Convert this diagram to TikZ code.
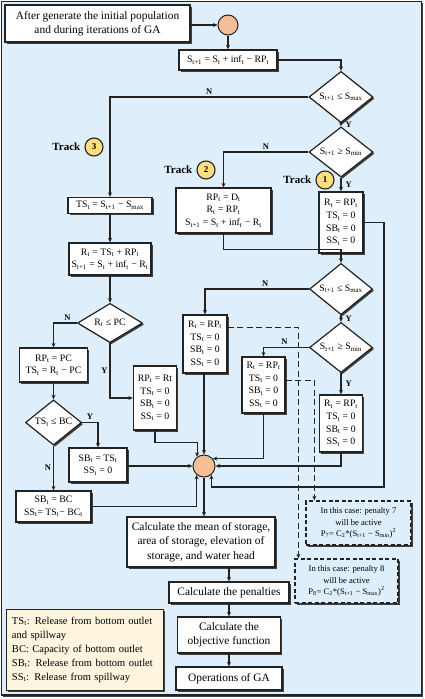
\documentclass[tikz,border=0pt]{standalone}
\usepackage{fontspec}
\setmainfont{Liberation Serif}
\usetikzlibrary{arrows.meta,positioning,shapes.geometric,shadows}
\definecolor{fcblue}{RGB}{222,238,250}
\definecolor{fcsalmon}{RGB}{246,190,150}
\definecolor{fcyellow}{RGB}{255,222,128}
\definecolor{fccream}{RGB}{253,245,222}
\definecolor{fcdark}{RGB}{35,35,35}
\newcommand{\tsub}[1]{\textsubscript{#1}}
\newcommand{\tsup}[1]{\textsuperscript{#1}}
\tikzset{
  shd/.style={drop shadow={shadow xshift=1.6pt, shadow yshift=-1.6pt, fill=black!75, opacity=1}},
  sz/.style 2 args={minimum width=#1, minimum height=#2},
  box/.style={draw=fcdark, line width=1.3pt, fill=white, align=center, inner sep=1pt, shd},
  eqbox/.style={box, font=\fontsize{9.8}{12.7}\selectfont},
  bigbox/.style={box, font=\fontsize{11.4}{14.5}\selectfont},
  test/.style={diamond, draw=fcdark, line width=1.2pt, fill=white, inner sep=0pt, shd, font=\fontsize{9.8}{11}\selectfont},
  joint/.style={circle, draw=fcdark, line width=1pt, fill=fcsalmon, minimum size=20pt, inner sep=0pt},
  note/.style={draw=fcdark, line width=1.3pt, dash pattern=on 4pt off 2.5pt, fill=fcblue, align=center, inner sep=1pt, font=\fontsize{8.6}{11.5}\selectfont, shd},
  key/.style={draw=fcdark, line width=1pt, fill=fccream, align=left, text width=145pt, inner xsep=6pt, inner ysep=4pt, font=\fontsize{10.5}{14}\selectfont, shd},
  trk/.style={circle, draw=fcdark, line width=1.1pt, fill=fcyellow, minimum size=18pt, inner sep=0pt, font=\bfseries\fontsize{9}{9}\selectfont},
  trklbl/.style={font=\bfseries\fontsize{11}{11}\selectfont, inner sep=0pt},
  lbl/.style={font=\bfseries\fontsize{8.5}{10}\selectfont, inner sep=2pt},
  arr/.style={draw=fcdark, line width=1.1pt, -{Stealth[length=4.5pt,width=4pt]}},
  dsh/.style={arr, dash pattern=on 6pt off 3.5pt}
}
\begin{document}
\begin{tikzpicture}[x=1pt,y=-1pt]
\useasboundingbox (0,0) rectangle (425,699);
\fill[white] (0,0) rectangle (425,699);
\draw[fcdark, line width=1.5pt, fill=fcblue, shd] (1.5,1.5) rectangle (421.5,695);
% Start and first balance
\node[bigbox, sz={185pt}{37pt}] (start) at (97.5,23.5) {After generate the initial population\\and during iterations of GA};
\node[joint] (c0) at (228,25) {};
\node[eqbox, sz={98pt}{20pt}] (eq1) at (228,60) {S\tsub{t+1} = S\tsub{t} + inf\tsub{t} − RP\tsub{t}};
\node[test, sz={64pt}{36pt}] (d1) at (341,97) {S\tsub{t+1} ≤ S\tsub{max}};
\node[test, sz={64pt}{38pt}] (d2) at (341,152) {S\tsub{t+1} ≥ S\tsub{min}};
% Track 1
\node[eqbox, sz={44pt}{61pt}] (t1box) at (341,222.5) {R\tsub{t} = RP\tsub{t}\\TS\tsub{t} = 0\\SB\tsub{t} = 0\\SS\tsub{t} = 0};
\node[trk] (k1) at (325,180) {1};
\node[trklbl, left=4pt of k1] (k1lbl) {Track};
% Track 2
\node[eqbox, sz={95pt}{45pt}] (t2box) at (223.5,210.5) {RP\tsub{t} = D\tsub{t}\\R\tsub{t} = RP\tsub{t}\\S\tsub{t+1} = S\tsub{t} + inf\tsub{t} − R\tsub{t}};
\node[trk] (k2) at (206,170) {2};
\node[trklbl, left=4pt of k2] (k2lbl) {Track};
\node[test, sz={63pt}{38pt}] (d3) at (341,289) {S\tsub{t+1} ≤ S\tsub{max}};
\node[test, sz={63pt}{39pt}] (d4) at (341,347.5) {S\tsub{t+1} ≥ S\tsub{min}};
\node[eqbox, sz={44pt}{58pt}] (n3box) at (205,344) {R\tsub{t} = RP\tsub{t}\\TS\tsub{t} = 0\\SB\tsub{t} = 0\\SS\tsub{t} = 0};
\node[eqbox, sz={43pt}{56pt}] (n4box) at (263.5,385) {R\tsub{t} = RP\tsub{t}\\TS\tsub{t} = 0\\SB\tsub{t} = 0\\SS\tsub{t} = 0};
\node[eqbox, sz={43pt}{57pt}] (y4box) at (341,423.5) {R\tsub{t} = RP\tsub{t}\\TS\tsub{t} = 0\\SB\tsub{t} = 0\\SS\tsub{t} = 0};
% Track 3
\node[trk] (k3) at (94,147) {3};
\node[trklbl, left=4pt of k3] (k3lbl) {Track};
\node[eqbox, sz={84pt}{16pt}] (t3box) at (110,205.5) {TS\tsub{t} = S\tsub{t+1} − S\tsub{max}};
\node[eqbox, sz={82pt}{32pt}] (rbox) at (110,259) {R\tsub{t} = TS\tsub{t} + RP\tsub{t}\\S\tsub{t+1} = S\tsub{t} + inf\tsub{t} − R\tsub{t}};
\node[test, sz={65pt}{37pt}] (d5) at (110,323) {R\tsub{t} ≤ PC};
\node[eqbox, sz={68pt}{34pt}] (pcbox) at (53.5,365) {RP\tsub{t} = PC\\TS\tsub{t} = R\tsub{t} − PC};
\node[eqbox, sz={43pt}{64pt}] (rtbox) at (155,398) {RP\tsub{t} = Rt\\TS\tsub{t} = 0\\SB\tsub{t} = 0\\SS\tsub{t} = 0};
\node[test, sz={56pt}{39pt}] (d6) at (53.5,422.5) {TS\tsub{t} ≤ BC};
\node[eqbox, sz={58pt}{34pt}] (sbts) at (98,465) {SB\tsub{t} = TS\tsub{t}\\SS\tsub{t} = 0};
\node[eqbox, sz={75pt}{31pt}] (sbbc) at (53.5,506.5) {SB\tsub{t} = BC\\SS\tsub{t}= TS\tsub{t}− BC\tsub{t}};
% Merge and final steps
\node[joint, minimum size=22pt] (mc) at (204,466) {};
\coordinate (t1r) at (384,487);
\node[bigbox, sz={148pt}{50pt}] (mean) at (201,542) {Calculate the mean of storage,\\area of storage, elevation of\\storage, and water head};
\node[bigbox, sz={120pt}{21pt}] (pen) at (229,592.5) {Calculate the penalties};
\node[bigbox, sz={103pt}{36pt}] (obj) at (229,635) {Calculate the\\objective function};
\node[bigbox, sz={106pt}{23pt}] (ops) at (229,678.5) {Operations of GA};
% Penalty notes
\node[note, sz={105pt}{44pt}] (p7) at (358.5,523) {In this case: penalty 7\\will be active\\P\tsub{7}= C\tsub{2}*(S\tsub{t+1} − S\tsub{min})\tsup{2}};
\node[note, sz={103pt}{44pt}] (p8) at (346.5,581) {In this case: penalty 8\\will be active\\P\tsub{8}= C\tsub{2}*(S\tsub{t+1} − S\tsub{max})\tsup{2}};
% Legend
\node[key, minimum height=81pt] (legend) at (84.5,649.5) {TS\tsub{t}: Release from bottom outlet\\and spillway\\BC: Capacity of bottom outlet\\SB\tsub{t}: Release from bottom outlet\\SS\tsub{t}: Release from spillway};
% Connectors
\draw[arr] (start.east |- c0) -- (c0);
\draw[arr] (c0) -- (c0 |- eq1.north);
\draw[arr] (eq1) -| (d1);
\draw[arr] (d1) -| node[lbl, pos=0.25, above] {N} (t3box);
\draw[arr] (d1) -- node[lbl, right=2pt] {Y} (d2);
\draw[arr] (d2) -| node[lbl, pos=0.25, above] {N} (t2box);
\draw[arr] (d2) -- node[lbl, right=2pt] {Y} (t1box);
\draw[arr] (t3box) -- (rbox);
\draw[arr] (rbox) -- (d5);
\draw[arr] (d5) -| node[lbl, pos=0.2, above] {N} (pcbox);
\draw[arr] (d5) |- node[lbl, pos=0.25, left] {Y} (rtbox);
\draw[arr] (pcbox) -- (d6);
\draw[arr] (d6) -| node[lbl, pos=0.25, above] {Y} (sbts);
\draw[arr] (d6) -- node[lbl, left] {N} (sbbc);
\draw[arr] (t2box) |- ([yshift=13pt]d3.north) -- (d3);
\draw[arr] (d3) -| node[lbl, pos=0.21, above] {N} (n3box);
\draw[arr] (d3) -- node[lbl, right=2pt] {Y} (d4);
\draw[arr] (d4) -| node[lbl, pos=0.27, above] {N} (n4box);
\draw[arr] (d4) -- node[lbl, right=2pt] {Y} (y4box);
% into the merge point
\draw[arr] (sbts.east |- mc) -- (mc);
\draw[arr] (sbbc) -| (mc.230);
\draw[arr] (rtbox) |- ([yshift=14pt]mc.127) -- (mc.127);
\draw[arr] (n3box.south -| mc) -- (mc);
\draw[arr] (n4box) |- (mc.40);
\draw[arr] (y4box) |- (mc);
\draw[arr] (t1box) -| (t1r) -| (mc.310);
% out of the merge point
\draw[arr] (mc) -- (mc |- mean.north);
\draw[arr] (mean.south -| pen) -- (pen);
\draw[arr] (pen) -- (obj);
\draw[arr] (obj) -- (ops);
% dashed links to penalties
\draw[dsh] ([yshift=-13pt]n3box.north east) -| ([xshift=4pt]p8.north west);
\draw[dsh] ([yshift=-24pt]n4box.north east) -| ([xshift=9pt]p7.north west);
\end{tikzpicture}
\end{document}
